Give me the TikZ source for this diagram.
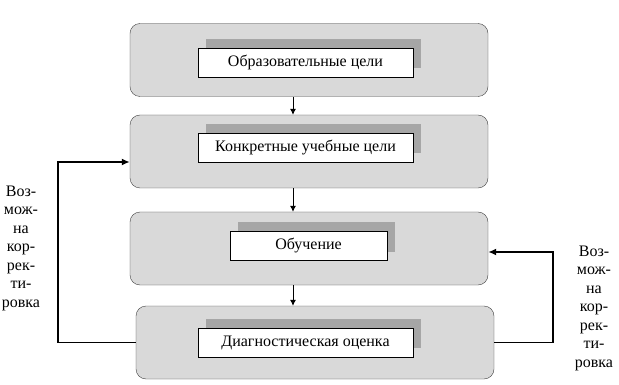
\documentclass[tikz,border=0pt]{standalone}
\usepackage{fontspec}
\setmainfont{Liberation Serif}
\usetikzlibrary{arrows.meta,shadows,calc}
\definecolor{boxgray}{HTML}{D9D9D9}
\definecolor{shadegray}{HTML}{A6A6A6}
\definecolor{edgegray}{HTML}{404040}
\tikzset{
  outerbox/.style={draw=edgegray,fill=boxgray,rounded corners=10pt,minimum width=358pt,minimum height=73pt,inner sep=0pt},
  labelbox/.style={draw=black,fill=white,minimum height=29pt,inner sep=0pt,font=\fontsize{16}{18.5}\selectfont,
    general shadow={fill=shadegray,shadow xshift=8pt,shadow yshift=9pt}},
  arr/.style={-{Latex[length=6pt,width=6pt]},line width=0.8pt},
  fbline/.style={-{Latex[length=8pt,width=7pt]},line width=1.6pt},
  sidenote/.style={align=center,font=\fontsize{16}{18.5}\selectfont}
}

\begin{document}
\begin{tikzpicture}[x=1pt,y=-1pt]
    \useasboundingbox (0,0) rectangle (619,385);
    % four stages
    \node[outerbox] (goals) at (309,60) {};
    \node[outerbox] (tasks) at (309,151.5) {};
    \node[outerbox] (teach) at (309,248.5) {};
    \node[outerbox] (check) at (315,342.5) {};
    \node[labelbox,minimum width=215pt] (goalslbl) at (305.5,62.5) {Образовательные цели};
    \node[labelbox,minimum width=215pt] (taskslbl) at (305.5,148) {Конкретные учебные цели};
    \node[labelbox,minimum width=157pt] (teachlbl) at (308.5,246) {Обучение};
    \node[labelbox,minimum width=215pt] (checklbl) at (305.5,342.5) {Диагностическая оценка};
    % arrows down
    \coordinate (ax) at (293,0);
    \draw[arr] (goals.south -| ax) -- (tasks.north -| ax);
    \draw[arr] (tasks.south -| ax) -- (teach.north -| ax);
    \draw[arr] (teach.south -| ax) -- (check.north -| ax);
    % feedback loops
    \coordinate (lf) at (58,162);
    \coordinate (rf) at (553,252);
    \draw[fbline] (check.west) -| (lf) -- (tasks.west |- lf);
    \draw[fbline] (check.east) -| (rf) -- (teach.east |- rf);
    \node[sidenote] (lnote) at (21,248) {Воз-\\мож-\\на\\кор-\\рек-\\ти-\\ровка};
    \node[sidenote] (rnote) at (594,308) {Воз-\\мож-\\на\\кор-\\рек-\\ти-\\ровка};
  \end{tikzpicture}
\end{document}
